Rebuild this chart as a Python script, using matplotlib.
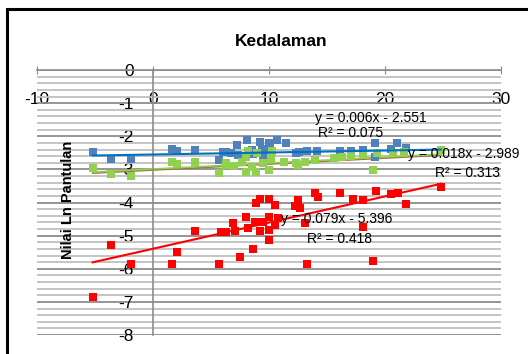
import matplotlib.pyplot as plt
from matplotlib.patches import Rectangle
import numpy as np

plt.rcParams['font.family'] = ['Liberation Sans', 'DejaVu Sans']

# data
blue_x = [-5.2, -3.6, -1.9, 1.65, 2.05, 3.6, 5.7, 6.0, 6.3, 6.7, 7.2, 7.3, 8.1, 8.5, 8.6,
          9.2, 9.4, 9.5, 10.0, 10.0, 10.1, 10.7, 11.5, 12.3, 12.6, 13.3, 14.1, 16.1, 17.1,
          18.1, 19.1, 19.1, 20.5, 21.0, 21.8, 24.8]
blue_y = [-2.49, -2.69, -2.70, -2.37, -2.45, -2.40, -2.72, -2.47, -2.47, -2.50, -2.27, -2.57,
          -2.11, -2.42, -2.54, -2.17, -2.37, -2.57, -2.20, -2.54, -2.30, -2.11, -2.20, -2.52,
          -2.47, -2.44, -2.44, -2.44, -2.44, -2.40, -2.21, -2.62, -2.37, -2.21, -2.34, -2.42]

green_x = [-5.2, -3.6, -1.9, 1.65, 2.05, 3.6, 5.7, 6.3, 6.3, 7.0, 7.7, 8.0, 8.0, 8.2, 8.5,
           8.9, 9.0, 9.5, 10.0, 10.2, 10.3, 11.3, 12.3, 12.5, 13.1, 14.0, 15.6, 16.3, 17.1,
           18.1, 19.0, 19.3, 20.7, 21.6, 24.8]
green_y = [-2.97, -3.15, -3.19, -2.77, -2.84, -2.79, -3.12, -2.82, -2.87, -2.90, -2.77, -3.07,
           -2.62, -2.45, -2.92, -3.07, -2.52, -2.82, -3.02, -2.67, -2.45, -2.77, -2.82, -2.87,
           -2.77, -2.72, -2.67, -2.62, -2.60, -2.57, -3.02, -2.52, -2.52, -2.47, -2.42]

red_x = [-5.2, -3.6, -1.9, 1.65, 2.05, 3.6, 5.7, 5.9, 6.3, 6.9, 7.1, 7.5, 8.0, 8.2, 8.6,
         8.75, 8.9, 9.2, 9.2, 9.5, 10.0, 10.0, 10.0, 10.0, 10.5, 10.5, 10.8, 12.2, 12.5,
         12.7, 13.1, 13.3, 14.0, 14.2, 16.1, 17.2, 18.1, 18.1, 19.0, 19.2, 20.5, 21.1,
         21.8, 24.8]
red_y = [-6.86, -5.29, -5.86, -5.86, -5.49, -4.86, -5.86, -4.88, -4.88, -4.63, -4.86, -5.66,
         -4.43, -4.78, -5.39, -4.58, -4.03, -3.88, -4.86, -4.58, -3.88, -4.43, -4.83, -5.12,
         -4.08, -4.68, -4.46, -4.11, -3.93, -4.18, -4.63, -5.86, -3.71, -3.83, -3.71, -3.88,
         -3.93, -4.75, -5.76, -3.65, -3.73, -3.71, -4.05, -3.52]

# trendline equations shown on the chart
slopes = [0.006, 0.018, 0.079]
intercepts = [-2.551, -2.989, -5.396]
r2 = [0.075, 0.313, 0.418]

fig = plt.figure(figsize=(5.28, 3.54), dpi=100)
ax = fig.add_axes([37/528, 1-335/354, 464/528, 265/354])
ax.set_xlim(-10, 30)
ax.set_ylim(-8, 0)

# grid
ax.set_yticks(np.arange(-8, 1, 1))
ax.set_yticks(np.arange(-8, 0.01, 0.2), minor=True)
ax.grid(True, axis='y', which='minor', color='#bfbfbf', lw=1.3, zorder=0)
ax.grid(True, axis='y', which='major', color='#8c8c8c', lw=1.3, zorder=0)

for s in ['right', 'bottom']:
    ax.spines[s].set_visible(False)
ax.spines['top'].set_color('#8c8c8c')
ax.spines['top'].set_linewidth(1.2)
ax.spines['left'].set_position(('data', 0))
ax.spines['left'].set_color('#8c8c8c')
ax.spines['left'].set_linewidth(1.2)

ax.set_xticks([-10, 0, 10, 20, 30])
ax.set_xticklabels(['-10', '0', '10', '20', '30'])
ax.tick_params(axis='x', top=True, bottom=False, labeltop=True, labelbottom=False,
               direction='inout', length=6, color='#8c8c8c', pad=-30, labelsize=12.5)
ax.tick_params(axis='y', which='major', length=0, pad=14, labelsize=12.5)
ax.tick_params(axis='y', which='minor', length=0)
ax.set_yticklabels([str(v) for v in range(-8, 1)])

xs = np.array([-5.2, 24.8])
# trendlines
ax.plot(xs, slopes[1]*xs + intercepts[1] - 0.03, color='#a0703a', lw=1.2, zorder=2)
ax.plot(xs, slopes[1]*xs + intercepts[1], color='#92d050', lw=1.2, zorder=2)

ax.plot(blue_x, blue_y, 's', color='#4f81bd', ms=5.5, mew=0, zorder=3)
ax.plot(green_x, green_y, 's', color='#92d050', ms=5.5, mew=0, zorder=3)
ax.plot(red_x, red_y, 's', color='#ff0000', ms=5.5, mew=0, zorder=3)

ax.plot(xs, slopes[0]*xs + intercepts[0], color='#0070c0', lw=1.5, zorder=4)
ax.plot(xs, slopes[2]*xs + intercepts[2], color='#ff0000', lw=1.5, zorder=4)

# equation labels
fs = 10
ax.text(14, -1.45, 'y = 0.006x - 2.551', fontsize=fs, va='center', ha='left', zorder=5)
ax.text(14.2, -1.9, 'R² = 0.075', fontsize=fs, va='center', ha='left', zorder=5)
ax.text(22, -2.54, 'y = 0.018x - 2.989', fontsize=fs, va='center', ha='left', zorder=5)
ax.text(24.3, -3.1, 'R² = 0.313', fontsize=fs, va='center', ha='left', zorder=5)
ax.text(11, -4.5, 'y = 0.079x - 5.396', fontsize=fs, va='center', ha='left', zorder=5)
ax.text(13.3, -5.1, 'R² = 0.418', fontsize=fs, va='center', ha='left', zorder=5)

fig.text(281/528, 1-42/354, 'Kedalaman', fontsize=12.5, fontweight='bold',
         ha='center', va='center')
fig.text(68/528, 1-200/354, 'Nilai Ln Pantulan', fontsize=10.5, fontweight='bold',
         ha='center', va='center', rotation=90)

fig.patches.append(Rectangle((7/528, -0.1), 1.2, 1.1 - 9/354, transform=fig.transFigure,
                             fill=False, ec='black', lw=2.2))

fig.savefig('out.png', dpi=100)
